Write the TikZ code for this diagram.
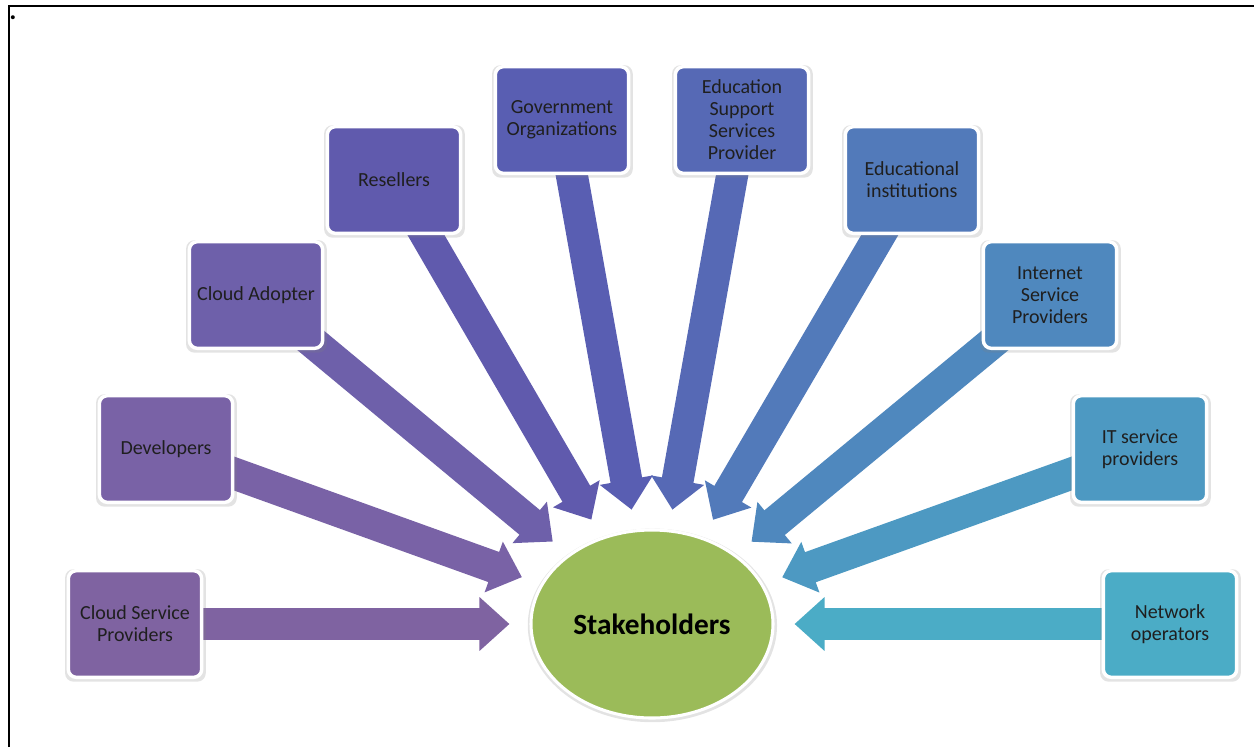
\documentclass[tikz,border=0pt]{standalone}
\usepackage{fontspec}
\setmainfont{Carlito}
\usetikzlibrary{arrows.meta,shadows,backgrounds,shapes.geometric}

\definecolor{cspc}{HTML}{7F63A1}
\definecolor{devc}{HTML}{7962A6}
\definecolor{adoc}{HTML}{6E60AA}
\definecolor{resc}{HTML}{605AAD}
\definecolor{govc}{HTML}{595EB2}
\definecolor{espc}{HTML}{5669B5}
\definecolor{educ}{HTML}{527ABA}
\definecolor{ispc}{HTML}{4F88BE}
\definecolor{itc}{HTML}{4D99C2}
\definecolor{netc}{HTML}{4BACC6}
\definecolor{hubc}{HTML}{9BBB59}

\tikzset{
  party/.style={rectangle, rounded corners=6pt, draw=white, line width=2.6pt,
    minimum width=100pt, minimum height=80pt, align=center, text=black!88,
    font=\fontsize{15pt}{16.5pt}\selectfont,
    drop shadow={opacity=0.22, shadow scale=1.055, shadow xshift=0.3pt, shadow yshift=-1pt}},
  hub/.style={ellipse, draw=white, line width=2.3pt, fill=hubc,
    minimum width=181.5pt, minimum height=141pt, inner sep=0pt,
    font=\fontsize{22pt}{26pt}\selectfont\bfseries,
    drop shadow={opacity=0.22, shadow scale=1.03, shadow xshift=0.3pt, shadow yshift=-1pt}},
  feed/.style={line width=24pt, shorten >=15pt,
    -{Triangle[width=39pt, length=22.5pt]}}
}

\begin{document}
\begin{tikzpicture}[x=0.75pt, y=-0.75pt]
  \useasboundingbox (0,0) rectangle (1254,747);

  % page frame
  \draw [line width=1.5pt] (9,747)--(9,6)--(1254,6);
  \node [inner sep=0pt, anchor=base, font=\fontsize{20pt}{22pt}\bfseries\selectfont] (dot) at (13,19) {.};

  % the stakeholder groups
  \node [party, fill=cspc] (csp) at (135,624) {Cloud Service\\Providers};
  \node [party, fill=devc] (dev) at (166,449) {Developers};
  \node [party, fill=adoc] (ado) at (256,295) {Cloud Adopter};
  \node [party, fill=resc] (res) at (394,180) {Resellers};
  \node [party, fill=govc] (gov) at (562,120) {Government\\Organizations};
  \node [party, fill=espc] (esp) at (742,120) {Education\\Support\\Services\\Provider};
  \node [party, fill=educ] (edu) at (912,180) {Educational\\institutions};
  \node [party, fill=ispc] (isp) at (1050,295) {Internet\\Service\\Providers};
  \node [party, fill=itc] (its) at (1140,449) {IT service\\providers};
  \node [party, fill=netc] (net) at (1170,624) {Network\\operators};

  \node [hub] (stake) at (652,624) {Stakeholders};

  % block arrows run under the boxes
  \begin{pgfonlayer}{background}
    \draw [feed, cspc] (csp.center) -- (stake);
    \draw [feed, devc] (dev.center) -- (stake);
    \draw [feed, adoc] (ado.center) -- (stake);
    \draw [feed, resc] (res.center) -- (stake);
    \draw [feed, govc] (gov.center) -- (stake);
    \draw [feed, espc] (esp.center) -- (stake);
    \draw [feed, educ] (edu.center) -- (stake);
    \draw [feed, ispc] (isp.center) -- (stake);
    \draw [feed, itc] (its.center) -- (stake);
    \draw [feed, netc] (net.center) -- (stake);
  \end{pgfonlayer}
\end{tikzpicture}
\end{document}
